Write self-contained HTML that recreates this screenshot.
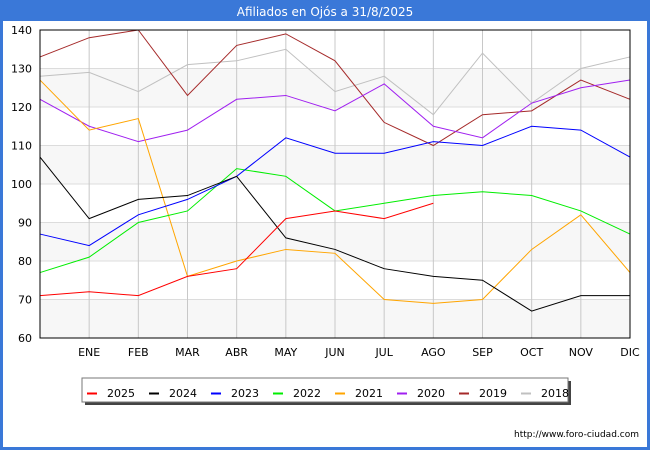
<!DOCTYPE html>
<html><head><meta charset="utf-8"><style>
body{margin:0;background:#fff;font-family:"DejaVu Sans","Liberation Sans",sans-serif}
#wrap{position:relative;width:650px;height:450px}
</style></head><body>
<div id="wrap">
<svg id="chart" width="650" height="450" xmlns="http://www.w3.org/2000/svg" style="position:absolute;left:0;top:0;font-family:'DejaVu Sans','Liberation Sans',sans-serif">
<rect x="0" y="0" width="650" height="450" fill="#3a78d8"/>
<rect x="3" y="21" width="644" height="426" fill="#fff"/>
<text x="325" y="16" fill="#fff" font-size="12" text-anchor="middle">Afiliados en Ojós a 31/8/2025</text>
<g id="bands"></g><g id="grid"></g><g id="lines"></g><g id="axes"></g><g id="legend"></g>
<text x="639" y="437" font-size="9" text-anchor="end" fill="#000">http://www.foro-ciudad.com</text>
</svg>
</div>
<script>
const months = ["","ENE","FEB","MAR","ABR","MAY","JUN","JUL","AGO","SEP","OCT","NOV","DIC"];
const yTicks = [60,70,80,90,100,110,120,130,140];
const years = ["2025","2024","2023","2022","2021","2020","2019","2018"];
const colors = ["#ff0000","#000000","#0000ff","#00ee00","#ffa500","#a020f0","#a52a2a","#c0c0c0"];
const s2025 = [71,72,71,76,78,91,93,91,95];
const s2024 = [107,91,96,97,102,86,83,78,76,75,67,71,71];
const s2023 = [87,84,92,96,102,112,108,108,111,110,115,114,107];
const s2022 = [77,81,90,93,104,102,93,95,97,98,97,93,87];
const s2021 = [127,114,117,76,80,83,82,70,69,70,83,92,77];
const s2020 = [122,115,111,114,122,123,119,126,115,112,121,125,127];
const s2019 = [133,138,140,123,136,139,132,116,110,118,119,127,122];
const s2018 = [128,129,124,131,132,135,124,128,118,134,121,130,133];
const series = [s2025,s2024,s2023,s2022,s2021,s2020,s2019,s2018];

const L=40,R=630,T=30,B=338,ymin=60,ymax=140;
const x = i => L + i*(R-L)/(months.length-1);
const y = v => B - (v-ymin)*(B-T)/(ymax-ymin);
const NS="http://www.w3.org/2000/svg";
function mk(tag,attrs,parent){const e=document.createElementNS(NS,tag);for(const k in attrs)e.setAttribute(k,attrs[k]);parent.appendChild(e);return e;}
const bands=document.getElementById('bands'),grid=document.getElementById('grid'),lines=document.getElementById('lines'),axes=document.getElementById('axes'),legend=document.getElementById('legend');
for(let i=0;i<yTicks.length-1;i+=2){
  const r=mk('rect',{x:L,y:y(yTicks[i+1]),width:R-L,height:y(yTicks[i])-y(yTicks[i+1]),fill:'#f7f7f7'},bands);
  
  
}
yTicks.forEach(v=>{
  const l=mk('line',{x1:L,x2:R,y1:y(v),y2:y(v),stroke:'#dcdcdc','stroke-width':1},grid);
  
  
  const t=mk('text',{x:L-8,y:y(v)+4,'font-size':11,'text-anchor':'end',fill:'#000'},axes);
  t.textContent=v;
  
  
});
months.forEach((m,i)=>{
  const l=mk('line',{x1:x(i),x2:x(i),y1:T,y2:B,stroke:'#c8c8c8','stroke-width':1},grid);
  
  
  const t=mk('text',{x:x(i),y:B+18,'font-size':11,'text-anchor':'middle',fill:'#000'},axes);
  t.textContent=m;
  
  
});
const frame=mk('rect',{x:L,y:T,width:R-L,height:B-T,fill:'none',stroke:'#000','stroke-width':1},axes);


for(let s=series.length-1;s>=0;s--){
  const p=mk('polyline',{points:series[s].map((v,i)=>x(i)+','+y(v)).join(' '),fill:'none',stroke:colors[s],'stroke-width':1},lines);
  
  
}
const sh=mk('rect',{x:85,y:381,width:486,height:24,fill:'#444'},legend);


const lb=mk('rect',{x:82,y:378,width:486,height:24,fill:'#fff',stroke:'#777'},legend);


years.forEach((yr,i)=>{
  const bx=87+i*62;
  const g=mk('g',{},legend);
  
  
  mk('line',{x1:bx,x2:bx+10,y1:393.5,y2:393.5,stroke:colors[i],'stroke-width':2},g);
  const t=mk('text',{x:bx+20,y:397,'font-size':11,fill:'#000'},g);
  t.textContent=yr;
});
</script>
</body></html>
